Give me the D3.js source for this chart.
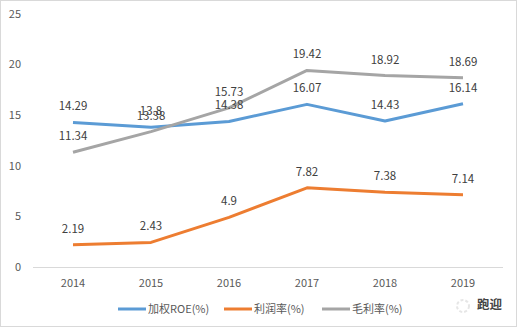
<!DOCTYPE html>
<html lang="zh">
  <head>
    <meta charset="UTF-8" />
    <title>Chart</title>
    <style>
      body { margin: 0; background: #fff; }
      text { font-family: "Noto Sans CJK SC", "Noto Sans", sans-serif; }
    </style>
  </head>
  <body>
    <script src="https://d3js.org/d3.v7.min.js"></script>
    <script>
      const width = 518;
      const height = 329;

      const years = ["2014", "2015", "2016", "2017", "2018", "2019"];
      const roe = [14.29, 13.8, 14.38, 16.07, 14.43, 16.14];
      const profitRate = [2.19, 2.43, 4.9, 7.82, 7.38, 7.14];
      const grossRate = [11.34, 13.38, 15.73, 19.42, 18.92, 18.69];
      const seriesNames = ["加权ROE(%)", "利润率(%)", "毛利率(%)"];
      const yTicks = [0, 5, 10, 15, 20, 25];

      const colors = ["#5B9BD5", "#ED7D31", "#A5A5A5"];
      const series = [roe, profitRate, grossRate];

      const svg = d3
        .select("body")
        .append("svg")
        .attr("width", width)
        .attr("height", height);

      // frame
      svg
        .append("rect")
        .attr("x", 0.5)
        .attr("y", 0.5)
        .attr("width", width - 2)
        .attr("height", height - 3)
        .attr("fill", "#fff")
        .attr("stroke", "#d9d9d9");

      const x = d3.scalePoint().domain(years).range([73, 463]);
      const y = d3.scaleLinear().domain([0, 25]).range([267, 14]);

      // y labels
      svg
        .selectAll(".ytick")
        .data(yTicks)
        .join("text")
        .attr("x", 21)
        .attr("y", (d) => y(d))
        .attr("dy", "0.35em")
        .attr("text-anchor", "end")
        .attr("font-size", 11)
        .attr("fill", "#595959")
        .text((d) => d);

      // x axis
      svg
        .append("line")
        .attr("x1", 33)
        .attr("x2", 503)
        .attr("y1", y(0) + 0.5)
        .attr("y2", y(0) + 0.5)
        .attr("stroke", "#d9d9d9");

      svg
        .selectAll(".xtick")
        .data(years)
        .join("text")
        .attr("x", (d) => x(d))
        .attr("y", 283)
        .attr("dy", "0.35em")
        .attr("text-anchor", "middle")
        .attr("font-size", 11)
        .attr("fill", "#595959")
        .text((d) => d);

      const line = d3
        .line()
        .x((d, i) => x(years[i]))
        .y((d) => y(d));

      series.forEach((s, k) => {
        svg
          .append("path")
          .datum(s)
          .attr("d", line)
          .attr("fill", "none")
          .attr("stroke", colors[k])
          .attr("stroke-width", 3)
          .attr("stroke-linejoin", "round");
      });

      series.forEach((s) => {
        svg
          .append("g")
          .selectAll("text")
          .data(s)
          .join("text")
          .attr("x", (d, i) => x(years[i]))
          .attr("y", (d) => y(d) - 16)
          .attr("dy", "0.35em")
          .attr("text-anchor", "middle")
          .attr("font-size", 11.5)
          .attr("fill", "#404040")
          .text((d) => d);
      });

      // legend
      const legendX = [118, 224, 322];
      const legend = svg
        .selectAll(".legend")
        .data(seriesNames)
        .join("g")
        .attr("transform", (d, i) => `translate(${legendX[i]},309)`);
      legend
        .append("line")
        .attr("x1", 0)
        .attr("x2", 28)
        .attr("stroke", (d, i) => colors[i])
        .attr("stroke-width", 3);
      legend
        .append("text")
        .attr("x", 30)
        .attr("dy", "0.35em")
        .attr("font-size", 11)
        .attr("fill", "#595959")
        .text((d) => d);

      // watermark
      svg
        .append("circle")
        .attr("cx", 463)
        .attr("cy", 306)
        .attr("r", 6)
        .attr("fill", "none")
        .attr("stroke", "#e6e6e6")
        .attr("stroke-width", 2)
        .attr("stroke-dasharray", "3,2");
      svg
        .append("text")
        .attr("x", 477)
        .attr("y", 305)
        .attr("dy", "0.35em")
        .attr("font-size", 12.5)
        .attr("font-weight", "bold")
        .attr("fill", "#444")
        .text("跑迎");
    </script>
  </body>
</html>
